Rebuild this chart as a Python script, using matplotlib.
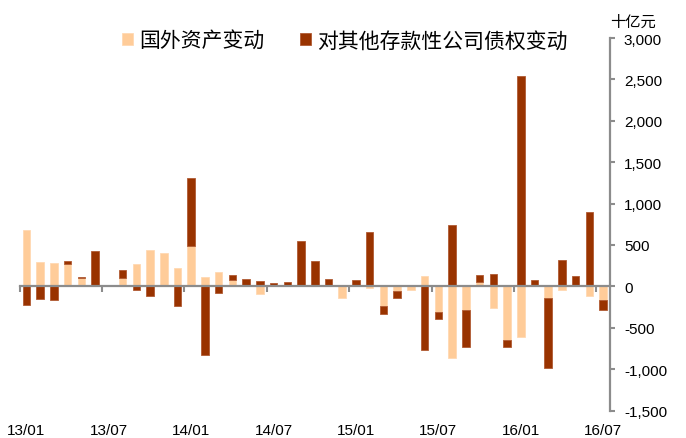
import matplotlib
matplotlib.use("Agg")
import matplotlib.pyplot as plt
import matplotlib.transforms as mtransforms
from matplotlib.font_manager import FontProperties
from matplotlib.ticker import FuncFormatter
import numpy as np

# ── 数据 (十亿元) ─────────────────────────────────────────────
months = [f"{y:02d}/{m:02d}" for y in (13, 14, 15, 16) for m in range(1, 13)][:43]

foreign_assets = [681, 294, 282, 270, 97, 0, 0, 97, 266, 443, 399, 218,
                  492, 117, 173, 77, 0, -93, 5, 10, 0, 0, 0, -141,
                  0, -20, -238, -52, -40, 129, -310, -862, -282, 56, -262, -653,
                  -617, 0, -137, -40, 5, -113, -161]
claims_odc = [-220, -157, -169, 32, 20, 431, 0, 97, -48, -121, 0, -242,
              818, -826, -85, 64, 89, 60, 30, 45, 552, 306, 89, 0,
              73, 661, -97, -93, 20, -765, -85, 746, -455, 81, 149, -85,
              2540, 73, -846, 322, 121, 903, -125]

legend_labels = ["国外资产变动", "对其他存款性公司债权变动"]
unit_label = "十亿元"

LIGHT = "#FFCC99"
DARK = "#993300"
GREY = "#8C8C8C"

plt.rcParams['font.family'] = ['Liberation Sans', 'DejaVu Sans']

fig = plt.figure(figsize=(6.86, 4.39), dpi=100)
ax = fig.add_axes([0.0286, 0.0626, 0.8606, 0.8485])

x = np.arange(len(months))
light = np.array(foreign_assets, dtype=float)
dark = np.array(claims_odc, dtype=float)

# Excel-style stacking: same sign stacks on top of the light bar
dark_bottom = np.where(np.sign(dark) == np.sign(light), light, 0.0)

width = 0.55
b1 = ax.bar(x, light, width, color=LIGHT, edgecolor='#FFD9B3', linewidth=0.6,
            label=legend_labels[0], zorder=1)
b2 = ax.bar(x, dark, width, bottom=dark_bottom, color=DARK, edgecolor='#B05A33',
            linewidth=0.6, label=legend_labels[1], zorder=1)

ax.set_xlim(-0.5, len(months) - 0.5)
ax.set_ylim(-1500, 3000)

# ── osi ─────────────────────────────────────────────────────────
for s in ('left', 'top'):
    ax.spines[s].set_visible(False)
ax.spines['bottom'].set_position(('data', 0))
ax.spines['bottom'].set_color(GREY)
ax.spines['bottom'].set_linewidth(1.6)
ax.spines['bottom'].set_zorder(3)
ax.spines['right'].set_color(GREY)
ax.spines['right'].set_linewidth(1.6)

ax.set_xticks(np.arange(-0.5, len(months), 6))
ax.tick_params(axis='x', direction='out', length=4, width=1.5, color=GREY,
               labelbottom=False)

ax.yaxis.tick_right()
ax.set_yticks(np.arange(-1500, 3001, 500))
ax.yaxis.set_major_formatter(FuncFormatter(lambda v, p: f"{int(v):,}"))
ax.tick_params(axis='y', direction='out', length=3.5, width=1.5, color=GREY,
               labelsize=11, pad=6.5, labelcolor='black')

# month labels along the bottom of the figure
trans = mtransforms.blended_transform_factory(ax.transData, fig.transFigure)
for i in range(0, len(months), 6):
    ax.text(i, 0.018, months[i], transform=trans, ha='center', va='center',
            fontsize=11, color='black')

cjk = FontProperties(family=['Noto Sans CJK SC', 'DejaVu Sans'], size=15)
fig.text(633 / 686, 1 - 22 / 439, unit_label, ha='center', va='center',
         fontproperties=FontProperties(family=['Noto Sans CJK SC', 'DejaVu Sans'], size=11))

fig.legend(handles=[b1, b2], loc='center left', bbox_to_anchor=(0.178, 0.906),
           ncol=2, frameon=False, prop=cjk, handlelength=0.5, handleheight=0.5,
           handletextpad=0.3, columnspacing=1.75, borderpad=0, borderaxespad=0)

fig.savefig("out.png", dpi=100, facecolor='white')
